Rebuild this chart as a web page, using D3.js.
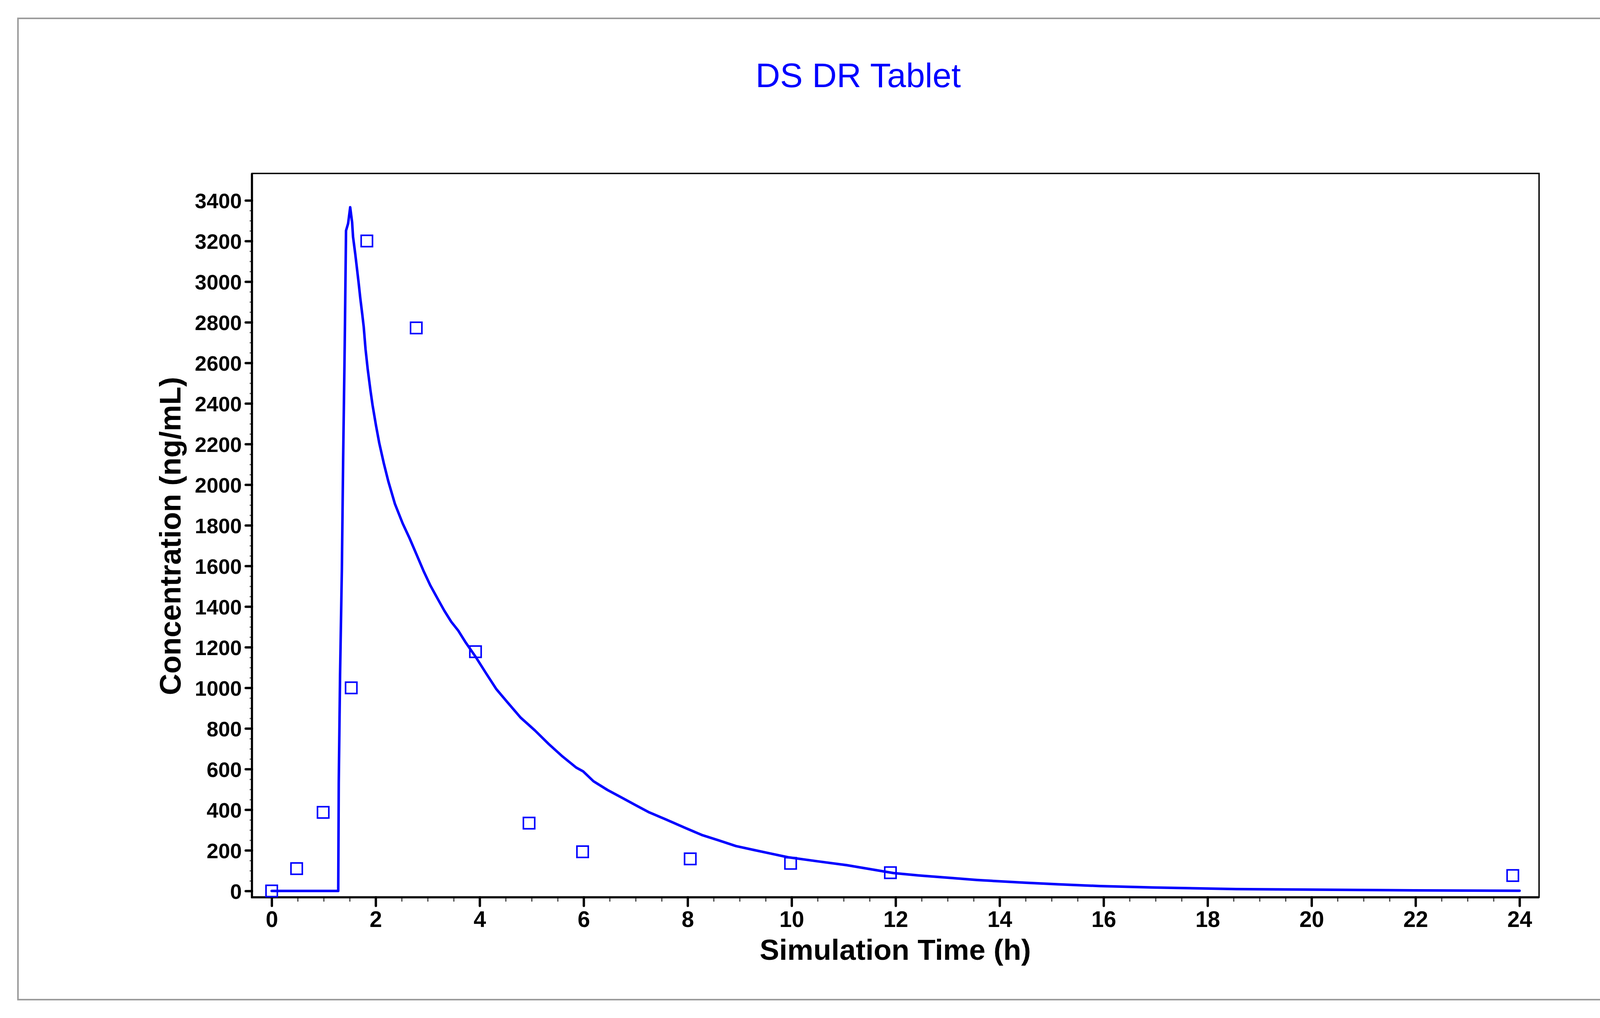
<!DOCTYPE html>
<html>
<head>
<meta charset="utf-8">
<script src="https://cdn.jsdelivr.net/npm/d3@7"></script>
<style>
  html, body { margin: 0; padding: 0; background: #ffffff; }
  svg { display: block; }
  text { font-family: "Liberation Sans", Arial, Helvetica, sans-serif; }
</style>
</head>
<body>
<script>
// ---------- data ----------
const chartTitle = "DS DR Tablet";
const xAxisTitle = "Simulation Time (h)";
const yAxisTitle = "Concentration (ng/mL)";

const xTickValues = [0, 2, 4, 6, 8, 10, 12, 14, 16, 18, 20, 22, 24];
const yTickValues = [0, 200, 400, 600, 800, 1000, 1200, 1400, 1600, 1800, 2000, 2200, 2400, 2600, 2800, 3000, 3200, 3400];

// simulated profile
const simTime = [0, 1.28, 1.29, 1.315, 1.35, 1.375, 1.405, 1.43, 1.47, 1.51, 1.547, 1.565, 1.607, 1.64, 1.675, 1.705, 1.74, 1.77, 1.805, 1.847, 1.9, 1.94, 2.006, 2.07, 2.157, 2.243, 2.37, 2.52, 2.653, 2.787, 2.92, 3.054, 3.187, 3.32, 3.454, 3.588, 3.722, 3.922, 4.12, 4.32, 4.524, 4.79, 5.06, 5.326, 5.594, 5.86, 5.99, 6.19, 6.46, 6.73, 6.996, 7.26, 7.6, 7.93, 8.27, 8.6, 8.93, 9.27, 9.6, 9.93, 10.5, 11.06, 11.96, 12.46, 13.07, 13.57, 14.47, 15.13, 15.93, 16.99, 18.55, 21.97, 24];
const simConc = [0, 0, 530, 1061, 1585, 2136, 2692, 3251, 3286, 3366, 3292, 3220, 3137, 3065, 2988, 2917, 2844, 2778, 2668, 2569, 2464, 2392, 2292, 2204, 2105, 2017, 1906, 1809, 1736, 1656, 1576, 1503, 1441, 1380, 1325, 1282, 1227, 1153, 1073, 994, 932, 853, 791, 724, 662, 607, 589, 540, 497, 460, 423, 387, 350, 313, 276, 249, 221, 202, 184, 166, 146, 127, 88, 76, 64, 54, 41, 33, 24, 17, 9, 3, 1];

const obsTime = [0, 0.48, 0.99, 1.53, 1.83, 2.78, 3.92, 4.95, 5.98, 8.05, 9.98, 11.9, 23.87];
const obsConc = [0, 110, 387, 1000, 3200, 2772, 1178, 334, 193, 158, 136, 90, 76];

// ---------- layout ----------
const W = 4190, H = 2606;
const plotL = 645, plotR = 3940, plotT = 444, plotB = 2297;
const blue = "#0000ff";

const svg = d3.select("body").append("svg")
  .attr("width", W).attr("height", H)
  .attr("viewBox", `0 0 ${W} ${H}`);

svg.append("rect").attr("width", W).attr("height", H).attr("fill", "#ffffff");

// outer frame
svg.append("rect")
  .attr("x", 46).attr("y", 47).attr("width", 4143 - 46).attr("height", 2559 - 47)
  .attr("fill", "none").attr("stroke", "#9c9c9c").attr("stroke-width", 4);

const x = d3.scaleLinear().domain([0, 24]).range([695.5, 3890]);
const y = d3.scaleLinear().domain([0, 3400]).range([2280.8, 512.9]);

// title
svg.append("text")
  .attr("x", 2197).attr("y", 223)
  .attr("text-anchor", "middle")
  .attr("font-size", 87)
  .attr("fill", blue)
  .text(chartTitle);

// minor ticks
const xMinor = d3.range(0, 24.01, 0.5).filter(v => v % 2 !== 0);
const yMinor = d3.range(0, 3450, 50).filter(v => v % 200 !== 0);

const gxMinor = svg.append("g").attr("transform", `translate(0,${plotB})`)
  .call(d3.axisBottom(x).tickValues(xMinor).tickSize(11).tickFormat(""));
gxMinor.select(".domain").remove();
gxMinor.selectAll(".tick line").attr("stroke", "#444").attr("stroke-width", 3);

const gyMinor = svg.append("g").attr("transform", `translate(${plotL},0)`)
  .call(d3.axisLeft(y).tickValues(yMinor).tickSize(6).tickFormat(""));
gyMinor.select(".domain").remove();
gyMinor.selectAll(".tick line").attr("stroke", "#666").attr("stroke-width", 3);

// major axes
const gx = svg.append("g").attr("transform", `translate(0,${plotB})`)
  .call(d3.axisBottom(x).tickValues(xTickValues).tickSize(22).tickPadding(12).tickFormat(d3.format("d")));
gx.select(".domain").remove();
gx.selectAll(".tick line").attr("stroke", "#000").attr("stroke-width", 6).attr("stroke-linecap", "round");
gx.selectAll(".tick text")
  .attr("font-size", 57).attr("font-weight", "bold").attr("fill", "#000")
  .attr("font-family", "'Liberation Sans', Arial, sans-serif")
  .attr("dy", null).attr("y", 76);

const gy = svg.append("g").attr("transform", `translate(${plotL},0)`)
  .call(d3.axisLeft(y).tickValues(yTickValues).tickSize(16).tickPadding(10).tickFormat(d3.format("d")));
gy.select(".domain").remove();
gy.selectAll(".tick line").attr("stroke", "#000").attr("stroke-width", 6).attr("stroke-linecap", "round");
gy.selectAll(".tick text")
  .attr("font-size", 54).attr("font-weight", "bold").attr("fill", "#000")
  .attr("font-family", "'Liberation Sans', Arial, sans-serif")
  .attr("x", -26).attr("dy", "0.36em");

// plot box
svg.append("rect")
  .attr("x", plotL).attr("y", plotT).attr("width", plotR - plotL).attr("height", plotB - plotT)
  .attr("fill", "none").attr("stroke", "#000").attr("stroke-width", 3.5);
svg.append("line").attr("x1", plotL).attr("x2", plotL).attr("y1", plotT).attr("y2", plotB + 2)
  .attr("stroke", "#000").attr("stroke-width", 5.5);
svg.append("line").attr("x1", plotL - 2).attr("x2", plotR).attr("y1", plotB).attr("y2", plotB)
  .attr("stroke", "#000").attr("stroke-width", 5.5);

// axis titles
svg.append("text")
  .attr("x", 2292).attr("y", 2457)
  .attr("text-anchor", "middle")
  .attr("font-size", 75).attr("font-weight", "bold").attr("fill", "#000")
  .text(xAxisTitle);

svg.append("text")
  .attr("transform", `translate(462,1372) rotate(-90)`)
  .attr("text-anchor", "middle")
  .attr("font-size", 76).attr("font-weight", "bold").attr("fill", "#000")
  .text(yAxisTitle);

// simulated line
const simData = simTime.map((t, i) => ({ t, c: simConc[i] }));
const line = d3.line().x(d => x(d.t)).y(d => y(d.c)).curve(d3.curveLinear);
svg.append("path")
  .datum(simData)
  .attr("d", line)
  .attr("fill", "none")
  .attr("stroke", blue)
  .attr("stroke-width", 6.5)
  .attr("stroke-linejoin", "round")
  .attr("stroke-linecap", "round");

// observed squares
const obsData = obsTime.map((t, i) => ({ t, c: obsConc[i] }));
const sq = 29;
svg.append("g").selectAll("rect")
  .data(obsData)
  .join("rect")
  .attr("x", d => x(d.t) - sq / 2)
  .attr("y", d => y(d.c) - sq / 2)
  .attr("width", sq).attr("height", sq)
  .attr("fill", "none")
  .attr("stroke", blue)
  .attr("stroke-width", 4);
</script>
</body>
</html>
